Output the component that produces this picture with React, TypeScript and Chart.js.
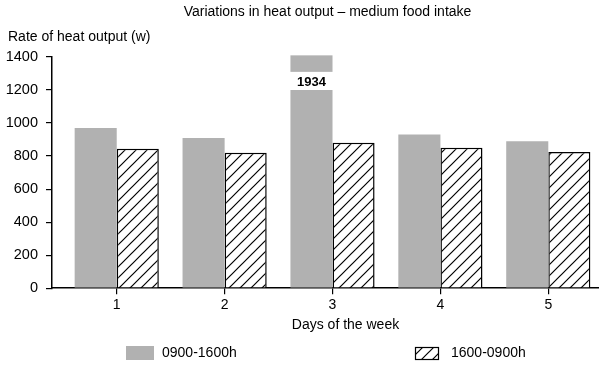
import React, { useEffect, useRef } from "react";
import { Chart, registerables } from "chart.js";

Chart.register(...registerables);

const TITLE = "Variations in heat output – medium food intake";
const Y_TITLE = "Rate of heat output (w)";
const X_TITLE = "Days of the week";
const days = [1, 2, 3, 4, 5];
const dayTime = [970, 910, 1934, 930, 890]; // 0900-1600h
const nightTime = [845, 820, 880, 850, 825]; // 1600-0900h
const seriesLabels = ["0900-1600h", "1600-0900h"];
const AXIS_MAX = 1400;
const TICK_STEP = 200;
const BREAK_LOW = 1200;
const BREAK_HIGH = 1310;
const STUB_TOP = 1410;

const FONT = "'Liberation Sans', Arial, Helvetica, sans-serif";
const GREY = "#b1b1b1";

function makeHatch(): CanvasPattern | string {
  const s = 11;
  const c = document.createElement("canvas");
  c.width = s;
  c.height = s;
  const g = c.getContext("2d");
  if (!g) return "#fff";
  g.fillStyle = "#fff";
  g.fillRect(0, 0, s, s);
  g.strokeStyle = "#000";
  g.lineWidth = 1.2;
  g.beginPath();
  g.moveTo(0, s);
  g.lineTo(s, 0);
  g.moveTo(-2, 2);
  g.lineTo(2, -2);
  g.moveTo(s - 2, s + 2);
  g.lineTo(s + 2, s - 2);
  g.stroke();
  const p = g.createPattern(c, "repeat");
  return p || "#fff";
}

export default function App() {
  const ref = useRef<HTMLCanvasElement | null>(null);

  useEffect(() => {
    if (!ref.current) return;
    const hatch = makeHatch();

    const extras = {
      id: "extras",
      afterDraw(chart: any) {
        const { ctx, chartArea, scales } = chart;
        ctx.save();
        ctx.fillStyle = "#000";
        ctx.font = `14px ${FONT}`;
        ctx.textBaseline = "middle";
        // title
        ctx.textAlign = "center";
        ctx.fillText(TITLE, (chartArea.left + chartArea.right) / 2 + 2, 12);
        // x title
        ctx.fillText(X_TITLE, (chartArea.left + chartArea.right) / 2 + 20, 325);
        // y title
        ctx.textAlign = "left";
        ctx.fillText(Y_TITLE, 8, 37);

        // broken bar
        const meta = chart.getDatasetMeta(0);
        dayTime.forEach((v, i) => {
          if (v <= AXIS_MAX) return;
          const el = meta.data[i];
          const { x, width } = el.getProps(["x", "width"], true);
          const yTop = scales.y.getPixelForValue(STUB_TOP);
          const yBot = scales.y.getPixelForValue(BREAK_HIGH);
          ctx.fillStyle = GREY;
          ctx.fillRect(x - width / 2, yTop, width, yBot - yTop);
          const yMid =
            (scales.y.getPixelForValue(BREAK_LOW) + scales.y.getPixelForValue(BREAK_HIGH)) / 2;
          ctx.fillStyle = "#000";
          ctx.font = `bold 13px ${FONT}`;
          ctx.textAlign = "center";
          ctx.fillText(String(v), x, yMid + 1);
        });

        // legend
        ctx.font = `14px ${FONT}`;
        ctx.textAlign = "left";
        const ly = 353;
        ctx.fillStyle = GREY;
        ctx.fillRect(126, ly - 7, 28, 14);
        ctx.fillStyle = "#000";
        ctx.fillText(seriesLabels[0], 162, ly);
        ctx.fillStyle = hatch;
        ctx.fillRect(415, ly - 6, 24, 12);
        ctx.strokeStyle = "#000";
        ctx.lineWidth = 1.2;
        ctx.strokeRect(415.5, ly - 5.5, 23, 12);
        ctx.fillStyle = "#000";
        ctx.fillText(seriesLabels[1], 451, ly);
        ctx.restore();
      },
    };

    const chart = new Chart(ref.current, {
      type: "bar",
      data: {
        datasets: [
          {
            label: seriesLabels[0],
            data: days.map((d, i) => ({ x: d, y: dayTime[i] > AXIS_MAX ? BREAK_LOW : dayTime[i] })),
            backgroundColor: GREY,
            borderWidth: 0,
          },
          {
            label: seriesLabels[1],
            data: days.map((d, i) => ({ x: d, y: nightTime[i] })),
            backgroundColor: hatch as any,
            borderColor: "#000",
            borderWidth: { top: 1.5, left: 1.5, right: 1.5, bottom: 0 } as any,
          },
        ],
      },
      options: {
        responsive: false,
        animation: false,
        devicePixelRatio: 1,
        categoryPercentage: 0.78,
        barPercentage: 1,
        layout: { padding: { top: 57, left: 0, right: 0, bottom: 48 } },
        plugins: {
          legend: { display: false },
          tooltip: { enabled: false },
          title: { display: false },
        },
        scales: {
          x: {
            type: "linear",
            offset: false,
            min: 0.4,
            max: 5.47,
            afterBuildTicks: (scale: any) => {
              scale.ticks = days.map((d) => ({ value: d }));
            },
            ticks: {
              color: "#000",
              font: { family: FONT, size: 14 },
              padding: 3,
              callback: (v: any) => String(v),
            },
            grid: {
              display: true,
              offset: false,
              drawOnChartArea: false,
              drawTicks: true,
              tickLength: 6,
              color: "#000",
              lineWidth: 1.2,
            },
            border: { display: true, color: "#000", width: 1.5 },
            title: { display: false },
          },
          y: {
            type: "linear",
            min: 0,
            max: AXIS_MAX,
            afterFit: (scale: any) => {
              scale.width = 52;
            },
            ticks: {
              stepSize: TICK_STEP,
              color: "#000",
              font: { family: FONT, size: 14.5 },
              padding: 8,
              callback: (v: any) => String(v),
            },
            grid: {
              display: true,
              drawOnChartArea: false,
              drawTicks: true,
              tickLength: 6,
              color: "#000",
              lineWidth: 1.2,
            },
            border: { display: true, color: "#000", width: 1.5 },
          },
        },
      },
      plugins: [extras],
    } as any);

    return () => chart.destroy();
  }, []);

  return (
    <div style={{ position: "absolute", left: 0, top: 0, width: 599, height: 365, background: "#fff" }}>
      <canvas ref={ref} width={599} height={365} style={{ display: "block" }} />
    </div>
  );
}
